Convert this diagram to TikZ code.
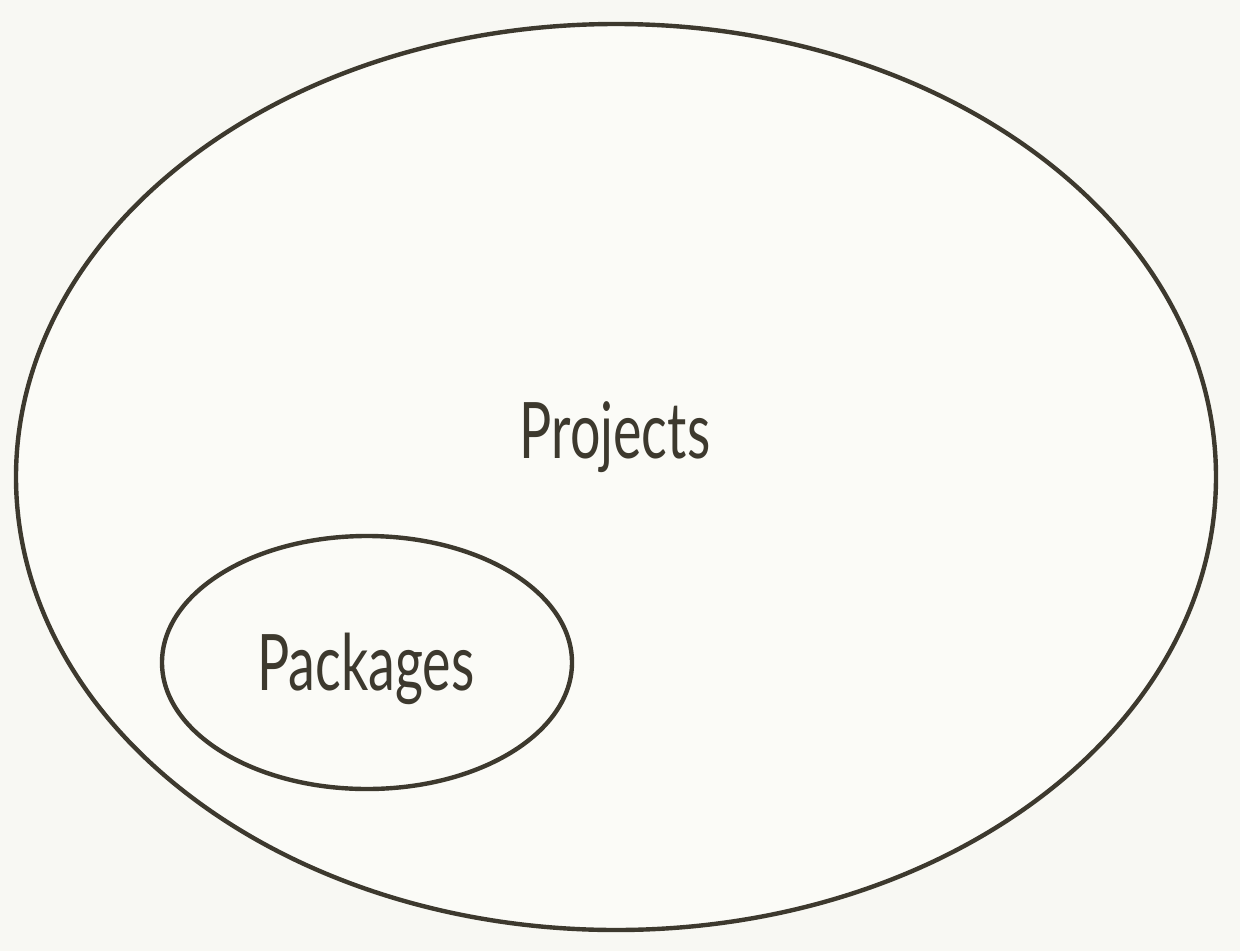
\documentclass[tikz,border=0pt]{standalone}
\usepackage{fontspec}
\setmainfont{Lato}[FakeStretch=0.69]
\definecolor{bg}{HTML}{F8F8F3}
\definecolor{inner}{HTML}{FBFBF7}
\definecolor{ink}{HTML}{3D392E}
\tikzset{
  setshape/.style={draw=ink, fill=inner, line width=4.4pt},
  setlabel/.style={text=ink, font=\fontsize{78}{80}\selectfont, anchor=base, inner sep=0pt}
}
\begin{document}
\begin{tikzpicture}[x=1pt,y=-1pt]
\fill[bg] (0,0) rectangle (1240,951);
\useasboundingbox (0,0) rectangle (1240,951);
\draw[setshape] (616,477) ellipse [x radius=600, y radius=453];
\node[setlabel] (projects) at (615,458) {Projects};
\draw[setshape] (367,662.5) ellipse [x radius=205, y radius=126.5];
\node[setlabel] (packages) at (366,690) {Packages};
\end{tikzpicture}
\end{document}
